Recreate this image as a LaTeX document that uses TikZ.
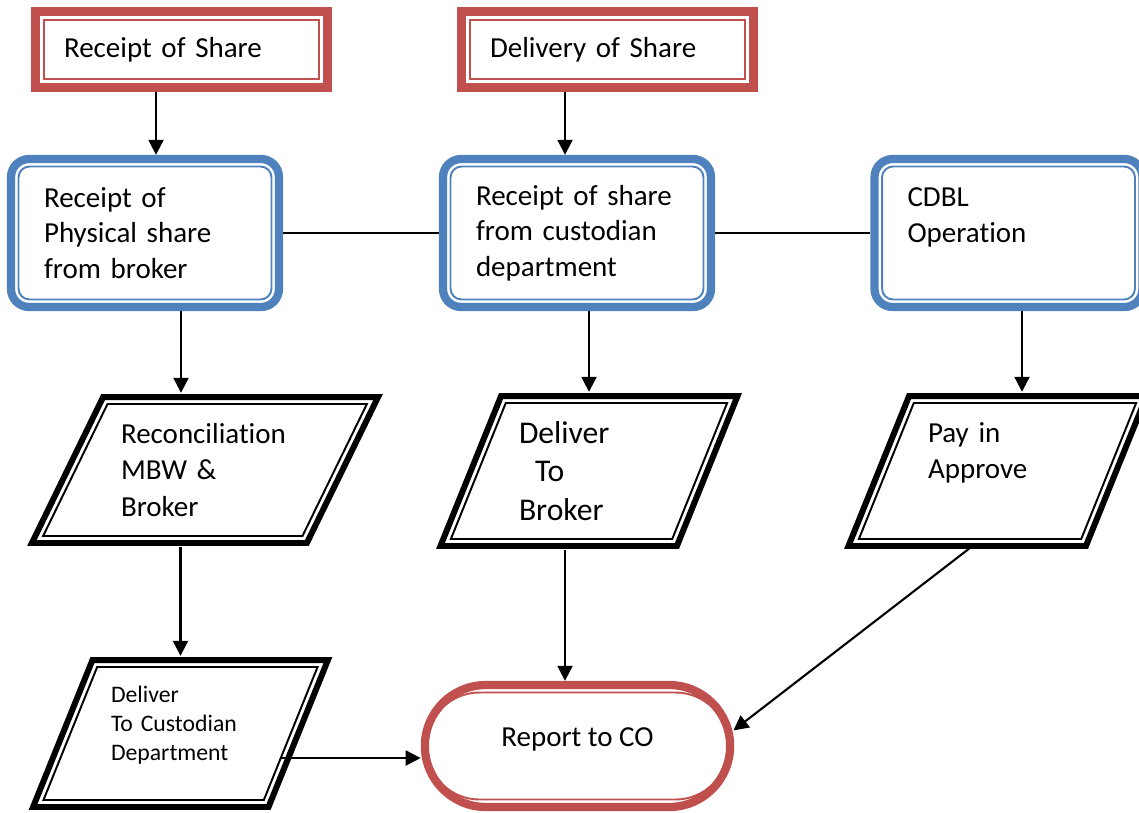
\documentclass[tikz,border=0pt]{standalone}
\usepackage{fontspec}
\setmainfont{Carlito}[Ligatures=NoCommon]
\usetikzlibrary{calc,positioning,shapes.misc,arrows.meta}
\definecolor{boxred}{RGB}{192,80,77}
\definecolor{boxblue}{RGB}{79,129,189}
\newcommand{\slantbox}[4]{%
  \draw[parabox] ($(#1.south west)+(-#2,0)$) -- ($(#1.north west)+(#2,0)$) -- ($(#1.north east)+(#2,0)$) -- ($(#1.south east)+(-#2,0)$) -- cycle;
  \draw[blackin] ($(#1.south west)+(-#2+#3,-7)$) -- ($(#1.north west)+(#2+#4,7)$) -- ($(#1.north east)+(#2-#3,7)$) -- ($(#1.south east)+(-#2-#4,-7)$) -- cycle;}

\begin{document}
\begin{tikzpicture}[x=0.02cm,y=-0.02cm,
	redbox/.style={rectangle, draw=boxred, line width=4.9pt, outer sep=0pt, minimum width=5.84cm, minimum height=1.52cm, text width=4.7cm, align=left, font=\fontsize{16.5}{20}\selectfont},
	bluebox/.style={rectangle, draw=boxblue, line width=4.7pt, rounded corners=0.36cm, outer sep=0pt, minimum width=5.36cm, minimum height=2.96cm, text width=4.04cm, align=left, font=\fontsize{16.5}{20.2}\selectfont},
	paranode/.style={rectangle, outer sep=0pt, minimum height=3cm, align=left, font=\fontsize{16.5}{20.6}\selectfont},
	parabox/.style={draw=black, line width=3.4pt},
	endbox/.style={rounded rectangle, draw=boxred, line width=4.7pt, outer sep=0pt, minimum width=6.34cm, minimum height=2.44cm, font=\fontsize{16.5}{20}\selectfont},
	redin/.style={draw=boxred, line width=1.1pt},
	bluein/.style={draw=boxblue, line width=1.1pt, rounded corners=0.22cm},
	blackin/.style={draw=black, line width=1.1pt},
	arr/.style={-{Triangle[length=8.5pt,width=8.5pt]}, line width=1.2pt, shorten <=2.4pt, shorten >=2.4pt},
	link/.style={line width=0.9pt, shorten <=2.4pt, shorten >=2.4pt}]
\useasboundingbox (0,0) rectangle (1139,812);

\node[redbox] (rs) at (181.5,49.5) {Receipt of Share};
\node[redbox] (ds) at (607.5,49.5) {Delivery of Share};
\draw[redin] ($(rs.south west)+(8.5,-8.5)$) rectangle ($(rs.north east)+(-8.5,8.5)$);
\draw[redin] ($(ds.south west)+(8.5,-8.5)$) rectangle ($(ds.north east)+(-8.5,8.5)$);

\node[bluebox] (b1) at (145,233) {Receipt of\\Physical share\\from broker};
\node[bluebox] (b2) at (577,233) {Receipt of share\\from custodian\\department};
\node[bluebox] (cd) at (1008.5,233) {CDBL\\Operation\\\mbox{}};
\draw[bluein] ($(b1.south west)+(7.5,-7.5)$) rectangle ($(b1.north east)+(-7.5,7.5)$);
\draw[bluein] ($(b2.south west)+(7.5,-7.5)$) rectangle ($(b2.north east)+(-7.5,7.5)$);
\draw[bluein] ($(cd.south west)+(7.5,-7.5)$) rectangle ($(cd.north east)+(-7.5,7.5)$);

\node[paranode, minimum width=5.5cm, minimum height=2.92cm, text width=3.36cm] (rec) at (205,470) {Reconciliation\\MBW \&\\Broker};
\node[paranode, minimum width=4.73cm, text width=2.8cm, font=\fontsize{18}{22}\selectfont] (dtb) at (589,471) {Deliver\\\hspace*{0.32cm}To\\Broker};
\node[paranode, minimum width=4.75cm, text width=2.78cm] (pay) at (997.5,471) {Pay in\\Approve\\[3pt]\mbox{}};
\node[paranode, minimum width=4.71cm, minimum height=2.94cm, text width=2.78cm, font=\fontsize{13.5}{16.4}\selectfont] (dtc) at (180.5,733.5) {Deliver\\To Custodian\\Department\\[-4.5pt]\mbox{}};
\slantbox{rec}{35.6}{11.2}{4.4}
\slantbox{dtb}{30.3}{10.4}{4.7}
\slantbox{pay}{30.3}{10.4}{4.7}
\slantbox{dtc}{29.7}{10.4}{4.7}

\node[endbox, text depth=10pt] (rep) at (577.5,746) {Report to CO};
\draw[redin, rounded corners=1.06cm] ($(rep.center)+(-151,-53.5)$) rectangle ($(rep.center)+(151,53.5)$);

\draw[arr] ([xshift=-0.51cm]rs.south) -- ([xshift=-0.51cm]rs.south |- b1.north);
\draw[arr] ([xshift=-0.85cm]ds.south) -- ([xshift=-0.85cm]ds.south |- b2.north);
\draw[link] (b1.east) -- (b2.west);
\draw[link] (b2.east) -- (cd.west);
\draw[arr] ([xshift=0.72cm]b1.south) -- ([xshift=0.72cm]b1.south |- rec.north);
\draw[arr] (b2.south -| dtb.north) -- (dtb.north);
\draw[arr] ([xshift=0.27cm]cd.south) -- ([xshift=0.27cm]cd.south |- pay.north);
\draw[arr] (rec.south -| dtc.north) -- (dtc.north);
\draw[arr] ([xshift=-0.48cm]dtb.south) -- ([xshift=-0.48cm]dtb.south |- rep.north);
\draw[arr] ([xshift=-0.5cm]pay.south) -- ([yshift=0.26cm]rep.east);
\draw[arr] ([shift={(96.5,24.5)}]dtc.center) coordinate (dtco) -- (dtco -| rep.west);
\end{tikzpicture}
\end{document}
